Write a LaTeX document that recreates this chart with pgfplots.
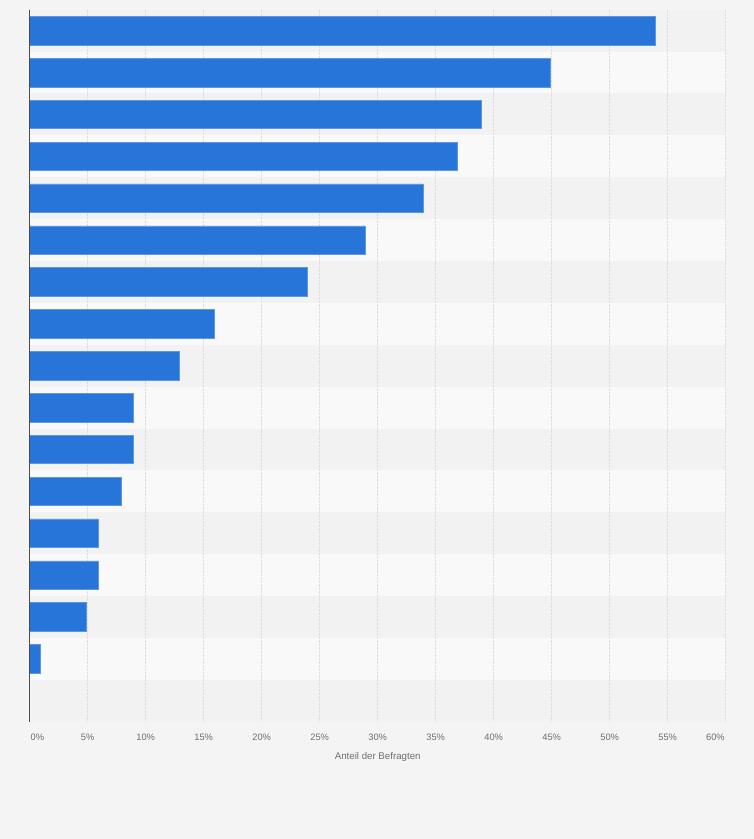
\documentclass[border=0pt]{standalone}
\usepackage{pgfplots}
\pgfplotsset{compat=1.18}
\usepackage{fontspec}
\setmainfont{Liberation Sans}
\definecolor{bg}{HTML}{F4F4F4}
\definecolor{stripeA}{HTML}{F2F2F2}
\definecolor{stripeB}{HTML}{F9F9F9}
\definecolor{barcol}{HTML}{2775D9}
\definecolor{txt}{HTML}{6E6E6E}
\begin{document}
\begin{tikzpicture}[x=1pt,y=1pt]
\path (0,0) rectangle (754,839);
\begin{axis}[
  set layers,
  at={(29.7pt,117.3pt)}, anchor=south west,
  scale only axis, width=696pt, height=712pt,
  xmin=0, xmax=60, ymin=0.5, ymax=17.5,
  y dir=reverse,
  xbar, bar width=28.5pt,
  axis line style={draw=none},
  xtick={0,5,...,60},
  xticklabel={\ifnum\ticknum=0 \makebox[0pt][l]{\hspace*{1pt}0\%}\else\ifnum\ticknum=12 \makebox[0pt][r]{60\%\hspace*{1pt}}\else\pgfmathprintnumber{\tick}\%\fi\fi},
  /pgf/number format/assume math mode=true,
  xticklabel style={font=\fontsize{9.3}{10}\selectfont, text=txt, anchor=north, inner sep=0pt, yshift=-11.8pt},
  ytick=\empty,
  major tick length=0pt,
  xmajorgrids, grid style={draw=black!13, densely dotted, line width=0.7pt},
  xlabel={Anteil der Befragten},
  xlabel style={font=\fontsize{9.7}{11}\selectfont, text=txt, at={(axis description cs:0.5,0)}, anchor=north, inner sep=0pt, yshift=-30.5pt},
  clip=false,
]
\begin{pgfonlayer}{axis background}
\fill[bg] (axis description cs:-0.04267,-0.16475) rectangle (axis description cs:1.04066,1.01362);
\pgfplotsinvokeforeach{1,3,...,17}{\fill[stripeA] (axis cs:0,#1-0.5) rectangle (axis cs:60,#1+0.5);}
\pgfplotsinvokeforeach{2,4,...,16}{\fill[stripeB] (axis cs:0,#1-0.5) rectangle (axis cs:60,#1+0.5);}
\end{pgfonlayer}
\addplot[fill=barcol, draw=barcol!75!white, line width=0.5pt] coordinates {
(53.9,1) (44.9,2) (38.9,3) (36.9,4) (33.9,5) (28.9,6) (23.9,7) (15.9,8) (12.9,9) (8.9,10) (8.9,11) (7.9,12) (5.9,13) (5.9,14) (4.9,15) (0.9,16) (0,17)};
\draw[black!70, line width=1.2pt] (axis cs:0,0.5) -- (axis cs:0,17.5);
\end{axis}
\end{tikzpicture}
\end{document}
